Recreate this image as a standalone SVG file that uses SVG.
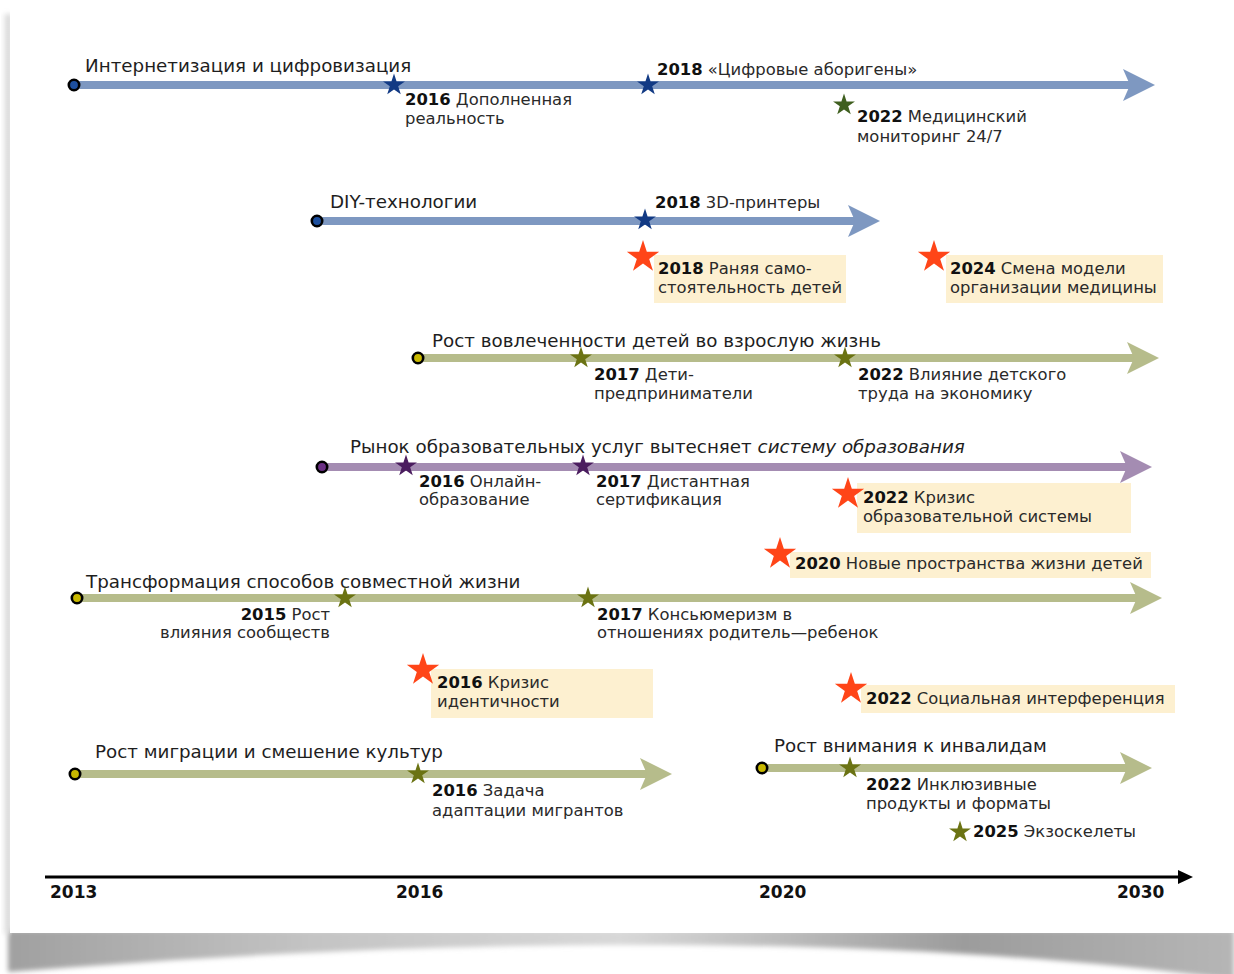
<svg xmlns="http://www.w3.org/2000/svg" xmlns:xlink="http://www.w3.org/1999/xlink" width="1234" height="974" viewBox="0 0 1234 974">
<style>
.t{font-family:"DejaVu Sans","Noto Sans",sans-serif;font-size:18.3px;fill:#1e1e1e}
.l{font-family:"DejaVu Sans","Noto Sans",sans-serif;font-size:16.4px;fill:#2a2a2a}
.b{font-weight:bold;fill:#111}
.ax{font-family:"DejaVu Sans","Noto Sans",sans-serif;font-size:17px;font-weight:bold;fill:#111}
.i{font-style:italic}
.box{fill:#fdf0d0}
.lb{stroke:#7e98c1;stroke-width:8;fill:none}
.lg{stroke:#b6bc8b;stroke-width:8;fill:none}
.lp{stroke:#a48cb2;stroke-width:8;fill:none}
.dot{stroke:#000;stroke-width:2.6}
</style>
<defs>
<path id="star" d="M0,-10 L2.245,-3.09 L9.511,-3.09 L3.633,1.18 L5.878,8.09 L0,3.82 L-5.878,8.09 L-3.633,1.18 L-9.511,-3.09 L-2.245,-3.09 Z"/>
<path id="ah" d="M-32,-16 L0,0 L-32,16 L-25,0 Z"/>
<linearGradient id="lsh" x1="0" x2="1" y1="0" y2="0"><stop offset="0" stop-color="#ffffff"/><stop offset="1" stop-color="#c4c4c4"/></linearGradient>
<linearGradient id="bsh" x1="0" x2="1" y1="0" y2="0">
<stop offset="0" stop-color="#a0a0a0"/><stop offset="0.25" stop-color="#c4c4c4"/><stop offset="0.5" stop-color="#d8d8d8"/><stop offset="0.78" stop-color="#9c9c9c"/><stop offset="1" stop-color="#b6b6b6"/>
</linearGradient>
<filter id="blur" x="-0.1" y="-0.5" width="1.2" height="2"><feGaussianBlur stdDeviation="2.5"/></filter>
</defs>

<g id="page">
<rect x="0" y="0" width="1234" height="974" fill="#ffffff"/>
<path d="M8,930 L1234,930 L1234,980 C1080,958 880,946 680,945 C460,944 260,952 8,972 Z" fill="url(#bsh)" filter="url(#blur)"/>
<rect x="2" y="14" width="9" height="920" fill="url(#lsh)" filter="url(#blur)"/>
<rect x="10" y="0" width="1224" height="933" fill="#ffffff"/>
</g>

<g id="connectors">
<line class="lb" x1="74" y1="85" x2="1130" y2="85"/>
<use xlink:href="#ah" transform="translate(1155,85)" fill="#7e98c1"/>
<line class="lb" x1="317" y1="221" x2="855" y2="221"/>
<use xlink:href="#ah" transform="translate(880,221)" fill="#7e98c1"/>
<line class="lg" x1="418" y1="358" x2="1134" y2="358"/>
<use xlink:href="#ah" transform="translate(1159,358)" fill="#b6bc8b"/>
<line class="lp" x1="322" y1="467" x2="1127" y2="467"/>
<use xlink:href="#ah" transform="translate(1152,467)" fill="#a48cb2"/>
<line class="lg" x1="77" y1="598" x2="1137" y2="598"/>
<use xlink:href="#ah" transform="translate(1162,598)" fill="#b6bc8b"/>
<line class="lg" x1="75" y1="774" x2="647" y2="774"/>
<use xlink:href="#ah" transform="translate(672,774)" fill="#b6bc8b"/>
<line class="lg" x1="762" y1="768" x2="1127" y2="768"/>
<use xlink:href="#ah" transform="translate(1152,768)" fill="#b6bc8b"/>
</g>

<g id="axis">
<line x1="45" y1="877" x2="1182" y2="877" stroke="#000" stroke-width="3"/>
<path d="M1178,870 L1193,877 L1178,884 Z" fill="#000"/>
<text class="ax" x="50" y="898">2013</text>
<text class="ax" x="396" y="898">2016</text>
<text class="ax" x="759" y="898">2020</text>
<text class="ax" x="1117" y="898">2030</text>
</g>

<g id="trend-internet">
<circle class="dot" cx="74" cy="85" r="5.2" fill="#1d4f9e"/>
<text class="t" x="85" y="72">Интернетизация и цифровизация</text>
</g>
<g id="ev-2016-ar">
<use xlink:href="#star" transform="translate(394,85) scale(1.15)" fill="#123a84"/>
<text class="l" x="405" y="105"><tspan class="b">2016</tspan> Дополненная<tspan x="405" y="124">реальность</tspan></text>
</g>
<g id="ev-2018-digital">
<use xlink:href="#star" transform="translate(648,85) scale(1.15)" fill="#123a84"/>
<text class="l" x="657" y="75"><tspan class="b">2018</tspan> «Цифровые аборигены»</text>
</g>
<g id="ev-2022-med">
<use xlink:href="#star" transform="translate(844,105) scale(1.15)" fill="#3f5f1f"/>
<text class="l" x="857" y="122"><tspan class="b">2022</tspan> Медицинский<tspan x="857" y="142">мониторинг 24/7</tspan></text>
</g>

<g id="trend-diy">
<circle class="dot" cx="317" cy="221" r="5.2" fill="#1d4f9e"/>
<text class="t" x="330" y="208">DIY-технологии</text>
</g>
<g id="ev-2018-3d">
<use xlink:href="#star" transform="translate(645,220) scale(1.15)" fill="#123a84"/>
<text class="l" x="655" y="208"><tspan class="b">2018</tspan> 3D-принтеры</text>
</g>
<g id="ev-2018-early">
<rect class="box" x="654" y="255" width="192" height="48"/>
<use xlink:href="#star" transform="translate(643,257) scale(1.7)" fill="#ff4518"/>
<text class="l" x="658" y="274"><tspan class="b">2018</tspan> Раняя само-<tspan x="658" y="293">стоятельность детей</tspan></text>
</g>
<g id="ev-2024-med">
<rect class="box" x="946" y="255" width="217" height="48"/>
<use xlink:href="#star" transform="translate(934,257) scale(1.7)" fill="#ff4518"/>
<text class="l" x="950" y="274"><tspan class="b">2024</tspan> Смена модели<tspan x="950" y="293">организации медицины</tspan></text>
</g>

<g id="trend-adult">
<circle class="dot" cx="418" cy="358" r="5.2" fill="#c8b800"/>
<text class="t" x="432" y="347">Рост вовлеченности детей во взрослую жизнь</text>
</g>
<g id="ev-2017-entre">
<use xlink:href="#star" transform="translate(581,358) scale(1.15)" fill="#6b7313"/>
<text class="l" x="594" y="380"><tspan class="b">2017</tspan> Дети-<tspan x="594" y="399">предприниматели</tspan></text>
</g>
<g id="ev-2022-labor">
<use xlink:href="#star" transform="translate(845,358) scale(1.15)" fill="#6b7313"/>
<text class="l" x="858" y="380"><tspan class="b">2022</tspan> Влияние детского<tspan x="858" y="399">труда на экономику</tspan></text>
</g>

<g id="trend-edu">
<circle class="dot" cx="322" cy="467" r="5.2" fill="#6b2f84"/>
<text class="t" x="350" y="453">Рынок образовательных услуг вытесняет <tspan class="i">систему образования</tspan></text>
</g>
<g id="ev-2016-online">
<use xlink:href="#star" transform="translate(406,466) scale(1.15)" fill="#4b1d5f"/>
<text class="l" x="419" y="487"><tspan class="b">2016</tspan> Онлайн-<tspan x="419" y="505">образование</tspan></text>
</g>
<g id="ev-2017-cert">
<use xlink:href="#star" transform="translate(583,466) scale(1.15)" fill="#4b1d5f"/>
<text class="l" x="596" y="487"><tspan class="b">2017</tspan> Дистантная<tspan x="596" y="505">сертификация</tspan></text>
</g>
<g id="ev-2022-crisis-edu">
<rect class="box" x="857" y="483" width="274" height="50"/>
<use xlink:href="#star" transform="translate(848,494) scale(1.7)" fill="#ff4518"/>
<text class="l" x="863" y="503"><tspan class="b">2022</tspan> Кризис<tspan x="863" y="522">образовательной системы</tspan></text>
</g>
<g id="ev-2020-spaces">
<rect class="box" x="790" y="552" width="361" height="26"/>
<use xlink:href="#star" transform="translate(780,554) scale(1.7)" fill="#ff4518"/>
<text class="l" x="795" y="569"><tspan class="b">2020</tspan> Новые пространства жизни детей</text>
</g>

<g id="trend-living">
<circle class="dot" cx="77" cy="598" r="5.2" fill="#c8b800"/>
<text class="t" x="86" y="588">Трансформация способов совместной жизни</text>
</g>
<g id="ev-2015-comm">
<use xlink:href="#star" transform="translate(345,598) scale(1.15)" fill="#6b7313"/>
<text class="l" x="330" y="620" text-anchor="end"><tspan class="b">2015</tspan> Рост<tspan x="330" y="638">влияния сообществ</tspan></text>
</g>
<g id="ev-2017-consumer">
<use xlink:href="#star" transform="translate(588,598) scale(1.15)" fill="#6b7313"/>
<text class="l" x="597" y="620"><tspan class="b">2017</tspan> Консьюмеризм в<tspan x="597" y="638">отношениях родитель—ребенок</tspan></text>
</g>
<g id="ev-2016-identity">
<rect class="box" x="431" y="669" width="222" height="49"/>
<use xlink:href="#star" transform="translate(423,670) scale(1.7)" fill="#ff4518"/>
<text class="l" x="437" y="688"><tspan class="b">2016</tspan> Кризис<tspan x="437" y="707">идентичности</tspan></text>
</g>
<g id="ev-2022-social">
<rect class="box" x="861" y="685" width="314" height="28"/>
<use xlink:href="#star" transform="translate(851,689) scale(1.7)" fill="#ff4518"/>
<text class="l" x="866" y="704"><tspan class="b">2022</tspan> Социальная интерференция</text>
</g>

<g id="trend-migration">
<circle class="dot" cx="75" cy="774" r="5.2" fill="#c8b800"/>
<text class="t" x="95" y="758">Рост миграции и смешение культур</text>
</g>
<g id="ev-2016-migrants">
<use xlink:href="#star" transform="translate(418,774) scale(1.15)" fill="#6b7313"/>
<text class="l" x="432" y="796"><tspan class="b">2016</tspan> Задача<tspan x="432" y="816">адаптации мигрантов</tspan></text>
</g>

<g id="trend-disabled">
<circle class="dot" cx="762" cy="768" r="5.2" fill="#c8b800"/>
<text class="t" x="774" y="752">Рост внимания к инвалидам</text>
</g>
<g id="ev-2022-inclusive">
<use xlink:href="#star" transform="translate(850,768) scale(1.15)" fill="#6b7313"/>
<text class="l" x="866" y="790"><tspan class="b">2022</tspan> Инклюзивные<tspan x="866" y="809">продукты и форматы</tspan></text>
</g>
<g id="ev-2025-exo">
<use xlink:href="#star" transform="translate(960,832) scale(1.15)" fill="#6b7313"/>
<text class="l" x="973" y="837"><tspan class="b">2025</tspan> Экзоскелеты</text>
</g>
</svg>
